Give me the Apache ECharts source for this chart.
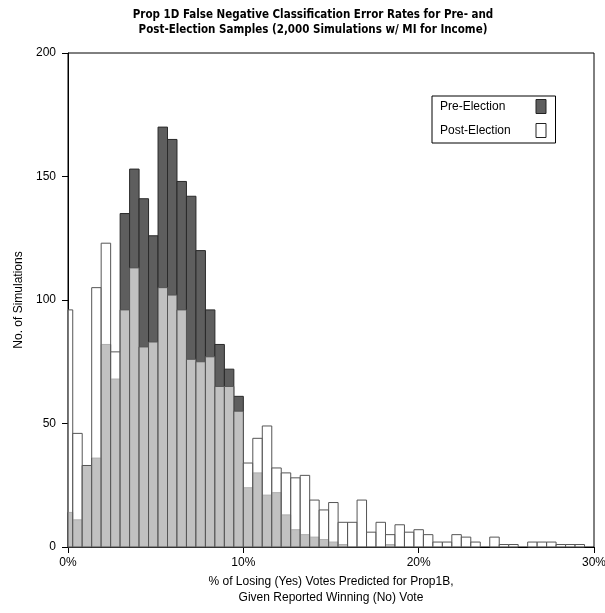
<!DOCTYPE html>
<html>
<head>
<meta charset="utf-8">
<style>
body { margin: 0; background: #fff; }
#chart { width: 605px; height: 613px; }
</style>
<script src="https://cdn.jsdelivr.net/npm/echarts@6/dist/echarts.min.js"></script>
</head>
<body>
<div id="chart"></div>
<script>
// counts per bin, bins are k/185 (about 0.54% wide), starting at 0
const binWidth = 100 / 185;
const preCounts = [14, 11, 33, 36, 82, 68, 135, 153, 141, 126, 170, 165, 148, 142, 120, 96, 82, 72, 61, 24,
  30, 21, 22, 13, 7, 5, 4, 3, 2, 1, 0, 0, 0, 0, 1];
const postCounts = [96, 46, 33, 105, 123, 79, 96, 113, 81, 83, 105, 102, 96, 76, 75, 77, 65, 65, 55, 34,
  44, 49, 32, 30, 28, 29, 19, 15, 18, 10, 10, 19, 6, 10, 5, 9, 6, 7, 5, 2,
  2, 5, 4, 2, 0, 4, 1, 1, 0, 2, 2, 2, 1, 1, 1];
const yTicks = [0, 50, 100, 150, 200];
const xTicks = [0, 10, 20, 30];

const font = "'Liberation Sans', Arial, sans-serif";

function toPoints(counts) {
  return counts.map((c, i) => [i * binWidth, c]);
}

function histItem(fill, stroke) {
  return function (params, api) {
    const x = api.value(0), y = api.value(1);
    if (!y) return;
    const p0 = api.coord([x - binWidth / 2, y]);
    const p1 = api.coord([x + binWidth / 2, 0]);
    const cs = params.coordSys;
    const shape = echarts.graphic.clipRectByRect(
      { x: p0[0], y: p0[1], width: p1[0] - p0[0], height: p1[1] - p0[1] },
      { x: cs.x, y: cs.y, width: cs.width, height: cs.height }
    );
    if (!shape) return;
    return { type: 'rect', shape: shape, style: { fill: fill, stroke: stroke, lineWidth: 1 } };
  };
}

// legend text is padded so both swatches line up at the right of the box
const measureCtx = document.createElement('canvas').getContext('2d');
measureCtx.font = "12px 'Liberation Sans', Arial, sans-serif";
const legendTextWidth = 91;
function legendPad(name) {
  return Math.max(0, legendTextWidth - measureCtx.measureText(name).width);
}
const legendNames = ['Pre-Election', 'Post-Election'];
const legendRich = {};
legendNames.forEach((n, i) => {
  legendRich['n' + i] = { fontFamily: font, fontSize: 12, color: '#000', padding: [0, legendPad(n), 0, 0] };
});

const chart = echarts.init(document.getElementById('chart'), null, { renderer: 'canvas' });
chart.setOption({
  animation: false,
  title: {
    text: 'Prop 1D False Negative Classification Error Rates for Pre- and\nPost-Election Samples (2,000 Simulations w/ MI for Income)',
    left: 308, top: 3, textAlign: 'center',
    textStyle: { fontFamily: "'DejaVu Sans Condensed', sans-serif", fontWeight: 'bold', fontSize: 11.5, lineHeight: 15, color: '#000' }
  },
  legend: {
    orient: 'vertical', left: 432, top: 96, align: 'right',
    itemWidth: 10, itemHeight: 14, itemGap: 9,
    padding: [3, 9, 5, 8],
    borderColor: '#000', borderWidth: 1,
    icon: 'rect',
    formatter: name => '{n' + legendNames.indexOf(name) + '|' + name + '}',
    textStyle: { fontFamily: font, fontSize: 12, color: '#000', rich: legendRich },
    data: [
      { name: 'Pre-Election', itemStyle: { color: '#5e5e5e', borderColor: '#222', borderWidth: 1 } },
      { name: 'Post-Election', itemStyle: { color: '#fff', borderColor: '#222', borderWidth: 1 } }
    ]
  },
  grid: { left: 68, right: 11, top: 53, bottom: 66, outerBoundsMode: 'none', show: true, borderColor: '#000', borderWidth: 1 },
  xAxis: {
    type: 'value', min: xTicks[0], max: xTicks[xTicks.length - 1], interval: 10,
    axisLine: { show: true, lineStyle: { color: '#000' } },
    axisTick: { show: true, length: 6, lineStyle: { color: '#000' } },
    axisLabel: { formatter: '{value}%', fontFamily: font, fontSize: 12, color: '#000', margin: 10 },
    splitLine: { show: false },
    name: '% of Losing (Yes) Votes Predicted for Prop1B,\nGiven Reported Winning (No) Vote',
    nameLocation: 'middle', nameGap: 27,
    nameTextStyle: { fontFamily: font, fontSize: 12, color: '#000', lineHeight: 16 }
  },
  yAxis: {
    type: 'value', min: yTicks[0], max: yTicks[yTicks.length - 1], interval: 50,
    axisLine: { show: true, lineStyle: { color: '#000' } },
    axisTick: { show: true, length: 6, lineStyle: { color: '#000' } },
    axisLabel: { fontFamily: font, fontSize: 12, color: '#000', margin: 12 },
    splitLine: { show: false },
    name: 'No. of Simulations', nameLocation: 'middle', nameGap: 43,
    nameTextStyle: { fontFamily: font, fontSize: 12, color: '#000' }
  },
  series: [
    {
      name: 'Pre-Election', type: 'custom', data: toPoints(preCounts),
      itemStyle: { color: '#5e5e5e' },
      renderItem: histItem('#5e5e5e', '#2a2a2a'),
      encode: { x: 0, y: 1 }
    },
    {
      name: 'Post-Election', type: 'custom', data: toPoints(postCounts),
      itemStyle: { color: '#fff' },
      renderItem: histItem('rgba(255,255,255,0.62)', '#555'),
      encode: { x: 0, y: 1 }
    }
  ]
});
</script>
</body>
</html>
